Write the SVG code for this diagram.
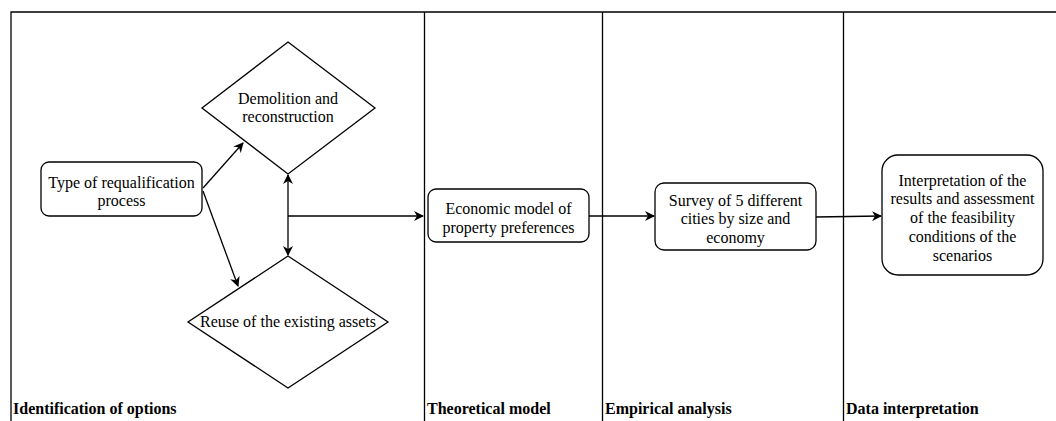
<svg xmlns="http://www.w3.org/2000/svg" width="1056" height="421" viewBox="0 0 1056 421">
<defs>
<marker id="ah" viewBox="0 0 10 10" refX="9" refY="5" markerWidth="10" markerHeight="10" markerUnits="userSpaceOnUse" orient="auto-start-reverse">
<path d="M0,0 L10,5 L0,10 L3,5 Z" fill="#000"/>
</marker>
<style>
.n{fill:#fff;stroke:#000;stroke-width:1.3}
.t{font-family:"Liberation Serif","Times New Roman",serif;font-size:16px;fill:#000;text-anchor:middle}
.lb{font-family:"Liberation Serif","Times New Roman",serif;font-size:16px;font-weight:bold;fill:#000}
.ln{stroke:#000;stroke-width:1.3;fill:none}
.c{stroke:#000;stroke-width:1.3;fill:none;marker-end:url(#ah)}
</style>
</defs>
<rect width="1056" height="421" fill="#fff"/>
<g id="lanes">
<path class="ln" d="M11,421 V12 H1056 M424.5,12 V421 M602.5,12 V421 M843.5,12 V421"/>
<text class="lb" x="13" y="414">Identification of options</text>
<text class="lb" x="427" y="414">Theoretical model</text>
<text class="lb" x="605" y="414">Empirical analysis</text>
<text class="lb" x="846" y="414">Data interpretation</text>
</g>
<g id="connectors">
<path class="c" d="M203,188 L243,143"/>
<path class="c" d="M203,191 L238,286"/>
<path class="c" style="marker-start:url(#ah)" d="M288,175 V255"/>
<path class="c" d="M288,216 H423"/>
<path class="c" d="M589,216 H654"/>
<path class="c" d="M816,217 L881,216"/>
</g>
<g id="type">
<rect class="n" x="41" y="162" width="161" height="54" rx="8"/>
<text class="t" x="121.5" y="187.5">Type of requalification</text>
<text class="t" x="121.5" y="205.5">process</text>
</g>
<g id="demolition">
<polygon class="n" points="288,42 375,108 288,174 202,108"/>
<text class="t" x="288" y="103.5">Demolition and</text>
<text class="t" x="288" y="121.5">reconstruction</text>
</g>
<g id="reuse">
<polygon class="n" points="288,256 388,322 288,388 188,322"/>
<text class="t" x="288" y="326.5">Reuse of the existing assets</text>
</g>
<g id="economic">
<rect class="n" x="428" y="189" width="161" height="53" rx="8"/>
<text class="t" x="508.5" y="213.5">Economic model of</text>
<text class="t" x="508.5" y="232.5">property preferences</text>
</g>
<g id="survey">
<rect class="n" x="655" y="183" width="161" height="67" rx="9"/>
<text class="t" x="735.5" y="205.5">Survey of 5 different</text>
<text class="t" x="735.5" y="223.5">cities by size and</text>
<text class="t" x="735.5" y="242.5">economy</text>
</g>
<g id="interpretation">
<rect class="n" x="882" y="155" width="161" height="120" rx="16"/>
<text class="t" x="962.5" y="185.5">Interpretation of the</text>
<text class="t" x="962.5" y="203.5">results and assessment</text>
<text class="t" x="962.5" y="222.5">of the feasibility</text>
<text class="t" x="962.5" y="241.5">conditions of the</text>
<text class="t" x="962.5" y="260.5">scenarios</text>
</g>
</svg>
